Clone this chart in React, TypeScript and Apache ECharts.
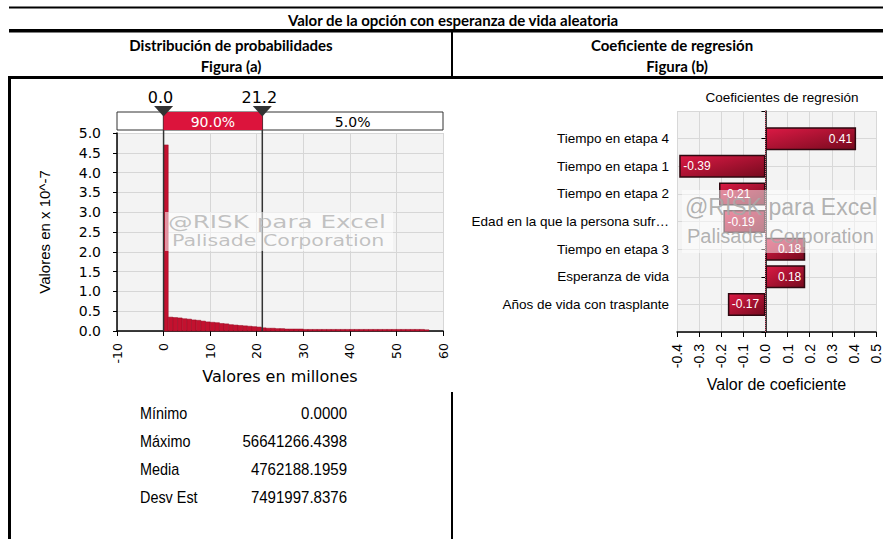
import React, { useEffect, useRef } from 'react';
import * as echarts from 'echarts';

// ---------- Data ----------
const mainTitle = 'Valor de la opción con esperanza de vida aleatoria';
const leftHeader = ['Distribución de probabilidades', 'Figura (a)'];
const rightHeader = ['Coeficiente de regresión', 'Figura (b)'];

// Histogram (values in millions, density x 10^-7), bins of width 1 starting at 0
const histStart = 0;
const histBinWidth = 1;
const histDensity = [
  4.70, 0.35, 0.34, 0.33, 0.31, 0.30, 0.28, 0.27, 0.25, 0.23,
  0.22, 0.21, 0.19, 0.18, 0.16, 0.15, 0.14, 0.13, 0.12, 0.11,
  0.10, 0.08, 0.07, 0.07, 0.06, 0.06, 0.05, 0.05, 0.05, 0.05,
  0.04, 0.04, 0.04, 0.04, 0.04, 0.04, 0.04, 0.04, 0.04, 0.04,
  0.04, 0.04, 0.04, 0.04, 0.04, 0.04, 0.04, 0.04, 0.04, 0.04,
  0.04, 0.04, 0.04, 0.04, 0.04, 0.04, 0.03,
];
const histXMin = -10;
const histXMax = 60;
const histXStep = 10;
const histYMin = 0;
const histYMax = 5;
const histYStep = 0.5;
const deltaLeft = 0.0;
const deltaRight = 21.2;
const pctMiddle = '90.0%';
const pctRight = '5.0%';

const statLabels = ['Mínimo', 'Máximo', 'Media', 'Desv Est'];
const statValues = ['0.0000', '56641266.4398', '4762188.1959', '7491997.8376'];

// Regression coefficients (top to bottom)
const regCategories = [
  'Tiempo en etapa 4',
  'Tiempo en etapa 1',
  'Tiempo en etapa 2',
  'Edad en la que la persona sufr…',
  'Tiempo en etapa 3',
  'Esperanza de vida',
  'Años de vida con trasplante',
];
const regValues = [0.41, -0.39, -0.21, -0.19, 0.18, 0.18, -0.17];
const regXMin = -0.4;
const regXMax = 0.5;
const regXStep = 0.1;

const VERD = "'DejaVu Sans', Verdana, sans-serif";
const ARIAL = "'Liberation Sans', Arial, sans-serif";
const CAL = "Lato, 'Open Sans', sans-serif";

export default function App() {
  const ref = useRef<HTMLDivElement>(null);

  useEffect(() => {
    const el = ref.current;
    if (!el) return;
    const chart = echarts.init(el, null, { renderer: 'svg' });

    const histData = histDensity.map((d, i) => [
      histStart + i * histBinWidth,
      histStart + (i + 1) * histBinWidth,
      d,
    ]);

    const barGrad = new echarts.graphic.LinearGradient(0, 0, 1, 1, [
      { offset: 0, color: '#dc1a45' },
      { offset: 1, color: '#760a1e' },
    ]);

    const regData: any[] = [null, ...regValues.map((v) => ({
      value: v,
      label: { position: v >= 0 ? 'insideRight' : 'insideLeft', distance: 4 },
    })), null];

    const option: any = {
      animation: false,
      backgroundColor: '#ffffff',
      grid: [
        { left: 117, top: 133, width: 326, height: 198, show: true, backgroundColor: '#f3f3f3', borderWidth: 0 },
        { left: 677, top: 111, width: 210, height: 221, show: true, backgroundColor: '#f3f3f3', borderWidth: 0 },
      ],
      xAxis: [
        {
          type: 'value', gridIndex: 0, min: histXMin, max: histXMax, interval: histXStep,
          axisLine: { show: true, onZero: false, lineStyle: { color: '#000', width: 1.5 } },
          axisTick: { show: true, length: 5, lineStyle: { color: '#000' } },
          axisLabel: { rotate: 90, margin: 12, fontFamily: VERD, fontSize: 12.5, color: '#000' },
          splitLine: { show: true, lineStyle: { color: '#d6d6d6', width: 1 } },
          name: 'Valores en millones', nameLocation: 'middle', nameGap: 37,
          nameTextStyle: { fontFamily: VERD, fontSize: 16, color: '#000' },
        },
        {
          type: 'value', gridIndex: 1, min: regXMin, max: regXMax, interval: regXStep,
          axisLine: { show: true, onZero: false, lineStyle: { color: '#000', width: 1.5 } },
          axisTick: { show: true, length: 5, lineStyle: { color: '#000' } },
          axisLabel: { rotate: 90, margin: 12, fontFamily: ARIAL, fontSize: 14, color: '#000',
            formatter: (v: number) => v.toFixed(1) },
          splitLine: { show: true, lineStyle: { color: '#d8d8d8', width: 1 } },
          name: 'Valor de coeficiente', nameLocation: 'middle', nameGap: 44,
          nameTextStyle: { fontFamily: ARIAL, fontSize: 16, color: '#000' },
        },
      ],
      yAxis: [
        {
          type: 'value', gridIndex: 0, min: histYMin, max: histYMax, interval: histYStep,
          axisLine: { show: true, onZero: false, lineStyle: { color: '#000', width: 1.5 } },
          axisTick: { show: true, length: 4, lineStyle: { color: '#000' } },
          axisLabel: { margin: 16, fontFamily: VERD, fontSize: 14, color: '#000',
            formatter: (v: number) => v.toFixed(1) },
          splitLine: { show: true, lineStyle: { color: '#d6d6d6', width: 1 } },
          name: 'Valores en x 10^-7', nameLocation: 'middle', nameGap: 65, nameRotate: 90,
          nameTextStyle: { fontFamily: ARIAL, fontSize: 15, color: '#000' },
        },
        {
          type: 'category', gridIndex: 1, inverse: true, boundaryGap: false,
          data: ['', ...regCategories, ''],
          axisLine: { show: true, lineStyle: { color: '#000', width: 1.5 } },
          axisTick: { show: true, length: 4, alignWithLabel: true, lineStyle: { color: '#000' } },
          axisLabel: { margin: 8, fontFamily: ARIAL, fontSize: 13.5, color: '#000' },
          splitLine: { show: true, lineStyle: { color: '#d8d8d8', width: 1 } },
        },
      ],
      series: [
        {
          type: 'custom', xAxisIndex: 0, yAxisIndex: 0,
          data: histData,
          encode: { x: [0, 1], y: 2 },
          renderItem: (_p: any, api: any) => {
            const a = api.coord([api.value(0), api.value(2)]);
            const b = api.coord([api.value(1), 0]);
            return {
              type: 'rect',
              shape: { x: a[0], y: a[1], width: b[0] - a[0], height: b[1] - a[1] },
              style: { fill: '#c3112f', stroke: '#960a22', lineWidth: 0.5 },
            };
          },
          silent: true,
        },
        {
          type: 'bar', xAxisIndex: 1, yAxisIndex: 1,
          data: regData,
          barWidth: 23,
          itemStyle: { color: barGrad, borderColor: '#2e0810', borderWidth: 1.5 },
          label: { show: true, color: '#fff', fontFamily: ARIAL, fontSize: 12,
            formatter: (p: any) => (p.value as number).toFixed(2) },
          emphasis: { disabled: true },
          silent: true,
          markLine: {
            silent: true, symbol: ['none', 'none'],
            label: { show: false },
            lineStyle: { color: '#e0607a', type: 'dotted', width: 1 },
            data: [{ xAxis: 0 }],
          },
        },
      ],
    };
    chart.setOption(option);

    const px = (v: number) => chart.convertToPixel({ xAxisIndex: 0 } as any, v) as number;
    const py = (v: number) => chart.convertToPixel({ yAxisIndex: 0 } as any, v) as number;
    const x0 = px(deltaLeft);
    const x1 = px(deltaRight);
    const xa = px(histXMin);
    const xb = px(histXMax);
    const yBase = py(histYMin);

    const Z = 60;
    const ln = (xA: number, yA: number, xB: number, yB: number, w: number, c = '#000') => ({
      type: 'line', z: Z, silent: true,
      shape: { x1: xA, y1: yA, x2: xB, y2: yB },
      style: { stroke: c, lineWidth: w },
    });
    const tx = (text: string, x: number, y: number, font: string, align = 'center', fill = '#000', scaleX = 1) => ({
      type: 'text', z: Z + 2, silent: true, x, y, scaleX,
      style: { text, font, fill, align, verticalAlign: 'middle' },
    });

    const barTop = 112;
    const barH = 18;

    const graphics: any[] = [
      // table lines
      ln(9, 7.5, 883, 7.5, 2),
      ln(9, 30.8, 883, 30.8, 3.5),
      ln(9, 77.5, 883, 77.5, 3),
      ln(9.5, 76, 9.5, 539, 3),
      ln(452, 31, 452, 79, 2),
      ln(452, 392, 452, 539, 2),
      // headers
      tx(mainTitle, 453, 19.5, `bold 15px ${CAL}`),
      tx(leftHeader[0], 231, 45, `bold 15px ${CAL}`),
      tx(leftHeader[1], 231, 65.5, `bold 15px ${CAL}`),
      tx(rightHeader[0], 672, 45, `bold 15px ${CAL}`),
      tx(rightHeader[1], 677, 65.5, `bold 15px ${CAL}`),
      // percentile bar
      { type: 'rect', z: Z, silent: true, shape: { x: xa, y: barTop, width: xb - xa, height: barH },
        style: { fill: '#fff', stroke: '#333', lineWidth: 1 } },
      { type: 'rect', z: Z + 1, silent: true, shape: { x: x0, y: barTop, width: x1 - x0, height: barH },
        style: { fill: '#dc143c' } },
      tx(pctMiddle, (x0 + x1) / 2, barTop + barH / 2 + 1, `14px ${VERD}`, 'center', '#fff'),
      tx(pctRight, (x1 + xb) / 2, barTop + barH / 2 + 1, `14px ${VERD}`, 'center', '#000'),
      ln(x0, barTop, x0, yBase, 1.5, '#333'),
      ln(x1, barTop, x1, yBase, 1.5, '#333'),
      { type: 'polygon', z: Z + 3, silent: true,
        shape: { points: [[x0 - 9.5, 106], [x0 + 9.5, 106], [x0, 116.5]] }, style: { fill: '#333' } },
      { type: 'polygon', z: Z + 3, silent: true,
        shape: { points: [[x1 - 9.5, 106], [x1 + 9.5, 106], [x1, 116.5]] }, style: { fill: '#333' } },
      tx(deltaLeft.toFixed(1), x0 - 3, 97, `16px ${VERD}`),
      tx(deltaRight.toFixed(1), x1 - 3, 97, `16px ${VERD}`),
      // left watermark
      { type: 'rect', z: Z + 4, silent: true, shape: { x: 165, y: 212, width: 228, height: 39 },
        style: { fill: 'rgba(255,255,255,0.55)' } },
      tx('@RISK para Excel', 168, 222, `18px ${VERD}`, 'left', 'rgba(95,95,95,0.85)', 1.37),
      tx('Palisade Corporation', 172, 241, `15px ${VERD}`, 'left', 'rgba(95,95,95,0.85)', 1.37),
      // right title
      tx('Coeficientes de regresión', 782, 97, `13.5px ${ARIAL}`),
      // right watermark
      { type: 'rect', z: Z + 4, silent: true, shape: { x: 682, y: 190, width: 201, height: 63 },
        style: { fill: 'rgba(255,255,255,0.5)' } },
      tx('@RISK para Excel', 685, 207, `23px ${ARIAL}`, 'left', 'rgba(80,80,80,0.9)'),
      tx('Palisade Corporation', 687, 236, `20px ${ARIAL}`, 'left', 'rgba(80,80,80,0.9)'),
    ];
    statLabels.forEach((lab, i) => {
      const y = 413 + i * 28;
      graphics.push(tx(lab, 140, y, `16px ${ARIAL}`, 'left', '#000', 0.9));
      graphics.push(tx(statValues[i], 347, y, `16px ${ARIAL}`, 'right', '#000', 0.94));
    });

    chart.setOption({ graphic: { elements: graphics } });

    return () => chart.dispose();
  }, []);

  return (
    <div
      ref={ref}
      style={{ position: 'absolute', left: 0, top: 0, width: 883, height: 539, background: '#fff' }}
    />
  );
}
